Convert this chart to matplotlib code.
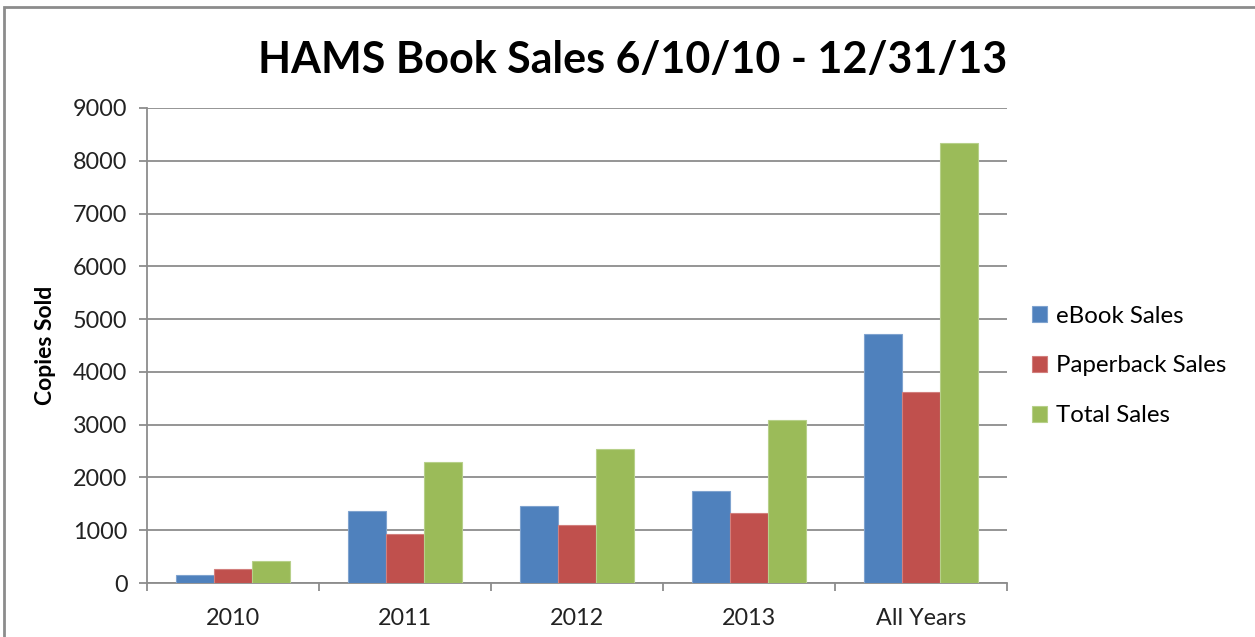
import matplotlib
matplotlib.use("Agg")
import matplotlib.pyplot as plt
from matplotlib.patches import Rectangle
import numpy as np

# data
years = ["2010", "2011", "2012", "2013", "All Years"]
ebook_sales = [150, 1360, 1455, 1750, 4715]
paperback_sales = [265, 930, 1090, 1330, 3615]
total_sales = [415, 2290, 2545, 3080, 8330]

series_names = ["eBook Sales", "Paperback Sales", "Total Sales"]
colors = ["#4F81BD", "#C0504D", "#9BBB59"]
edges = ["#7FA3CF", "#D27F7D", "#B7D08A"]

plt.rcParams['font.family'] = ['Lato', 'DejaVu Sans']

fig = plt.figure(figsize=(12.55, 6.37), dpi=100)
ax = fig.add_axes([147 / 1255, 1 - 583 / 637, 860 / 1255, 475 / 637])

# outer chart border (only top and left visible in the reference)
fig.patches.append(Rectangle((4 / 1255, -0.05), 1.1, 1 - 7 / 637 + 0.05,
                             transform=fig.transFigure, fill=False,
                             edgecolor="#8C8C8C", linewidth=2))

x = np.arange(len(years))
width = 0.222
for i, values in enumerate([ebook_sales, paperback_sales, total_sales]):
    ax.bar(x + (i - 1) * width, values, width, color=colors[i],
           edgecolor=edges[i], linewidth=0.8, label=series_names[i], zorder=3)

ax.set_xlim(-0.5, len(years) - 0.5)
ax.set_ylim(0, 9000)
ax.set_yticks(np.arange(0, 9001, 1000))
ax.yaxis.grid(True, color="#8C8C8C", linewidth=1.3, zorder=0)
ax.set_axisbelow(True)

# category labels between boundary ticks, like Excel
ax.set_xticks(np.arange(-0.5, len(years), 1.0))
ax.set_xticklabels([])
ax.set_xticks(x, minor=True)
ax.set_xticklabels(years, minor=True, fontsize=16.8, color="#222222")
ax.tick_params(axis="x", which="minor", length=0, pad=18)
ax.tick_params(axis="x", which="major", length=6, color="#8C8C8C", width=1.3)
ax.tick_params(axis="y", length=6, color="#8C8C8C", width=1.3,
               labelsize=16.8, labelcolor="#222222", pad=8)

for side in ["top", "right"]:
    ax.spines[side].set_visible(False)
for side in ["left", "bottom"]:
    ax.spines[side].set_color("#8C8C8C")
    ax.spines[side].set_linewidth(1.3)

ax.set_ylabel("Copies Sold", fontsize=16.5, fontweight="bold", labelpad=12)

fig.text(0.504, 1 - 60 / 637, "HAMS Book Sales 6/10/10 - 12/31/13",
         ha="center", va="center", fontsize=31, fontweight="bold")

fig.legend(loc="center left", bbox_to_anchor=(1010 / 1255, 1 - 366 / 637),
           frameon=False, fontsize=17.3, handlelength=0.65, handleheight=0.65,
           handletextpad=0.35, labelspacing=1.2)

plt.savefig("out.png", dpi=100)
